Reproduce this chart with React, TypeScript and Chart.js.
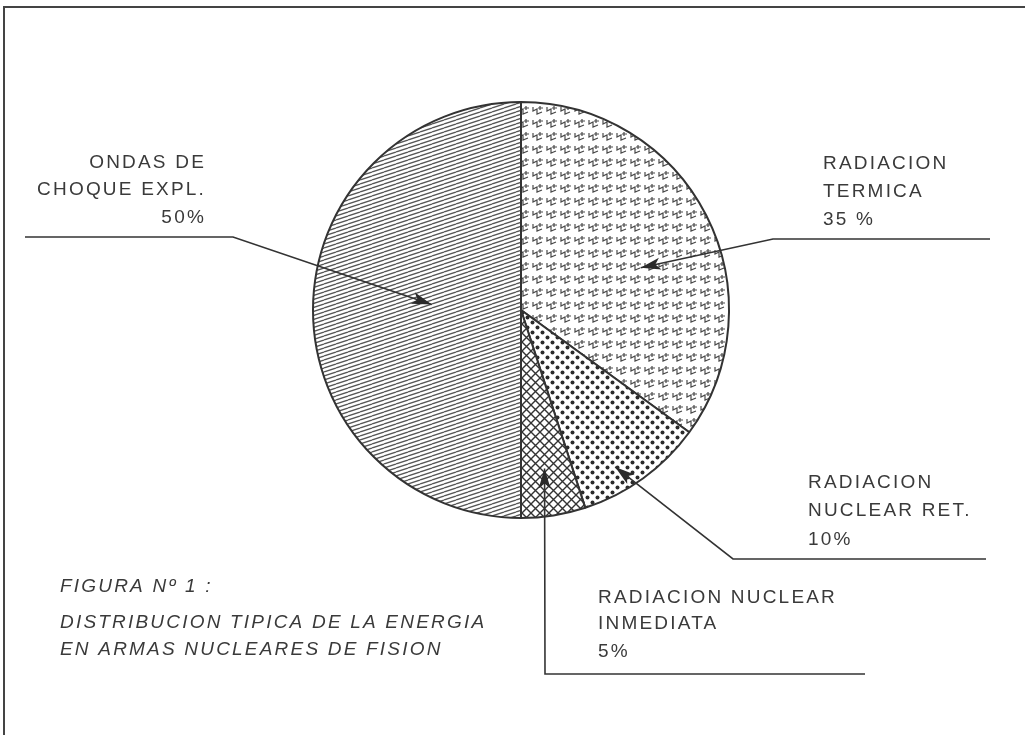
import React, { useEffect, useRef } from "react";
import { Chart, registerables } from "chart.js";

Chart.register(...registerables);

// ---- data ----
const categories = ["RADIACION TERMICA", "RADIACION NUCLEAR RET.", "RADIACION NUCLEAR INMEDIATA", "ONDAS DE CHOQUE EXPL."];
const percentages = [35, 10, 5, 50];
const labelLines = [
  ["RADIACION", "TERMICA", "35 %"],
  ["RADIACION", "NUCLEAR RET.", "10%"],
  ["RADIACION NUCLEAR", "INMEDIATA", "5%"],
  ["ONDAS DE", "CHOQUE EXPL.", "50%"],
];
const captionLines = ["FIGURA Nº 1 :", "DISTRIBUCION TIPICA DE LA ENERGIA", "EN ARMAS NUCLEARES DE FISION"];

// ---- layout (annotation placement, not data) ----
type Ann = {
  textX: number;
  align: CanvasTextAlign;
  baselines: number[];
  end: [number, number];
  elbow: [number, number];
  tipFrac: number;
  tipR: number;
};
const annotations: Ann[] = [
  { textX: 823, align: "left", baselines: [169, 197, 225], end: [990, 239], elbow: [773, 239], tipFrac: 0.56, tipR: 0.61 },
  { textX: 808, align: "left", baselines: [488, 516, 545], end: [986, 559], elbow: [733, 559], tipFrac: 0.64, tipR: 0.88 },
  { textX: 598, align: "left", baselines: [603, 629, 657], end: [865, 674], elbow: [545, 674], tipFrac: 0.53, tipR: 0.77 },
  { textX: 206, align: "right", baselines: [168, 195, 223], end: [25, 237], elbow: [233, 237], tipFrac: 0.52, tipR: 0.43 },
];

const INK = "#3a3a3a";

function makePattern(kind: string): CanvasPattern | string {
  const c = document.createElement("canvas");
  const ctx = c.getContext("2d");
  if (!ctx) return "#ccc";
  if (kind === "lines") {
    c.width = 12; c.height = 4;
    ctx.fillStyle = "#fff"; ctx.fillRect(0, 0, 12, 4);
    ctx.strokeStyle = "#555"; ctx.lineWidth = 1.3;
    for (const off of [-4, 0, 4]) {
      ctx.beginPath(); ctx.moveTo(0, 4 + off); ctx.lineTo(12, 0 + off); ctx.stroke();
    }
  } else if (kind === "zigzag") {
    c.width = 14; c.height = 13;
    ctx.fillStyle = "#fff"; ctx.fillRect(0, 0, 14, 13);
    ctx.strokeStyle = "#4a4a4a"; ctx.lineWidth = 1.2;
    ctx.beginPath();
    ctx.moveTo(1, 3); ctx.lineTo(1, 7); ctx.lineTo(5, 5); ctx.lineTo(5, 10); ctx.lineTo(10, 8);
    ctx.moveTo(8, 2); ctx.lineTo(8, 6);
    ctx.moveTo(6, 4); ctx.lineTo(11, 4);
    ctx.stroke();
  } else if (kind === "dots") {
    c.width = 10; c.height = 10;
    ctx.fillStyle = "#fff"; ctx.fillRect(0, 0, 10, 10);
    ctx.fillStyle = "#2a2a2a";
    for (const [x, y] of [[2.5, 2.5], [7.5, 7.5]]) {
      ctx.beginPath(); ctx.arc(x, y, 2.0, 0, Math.PI * 2); ctx.fill();
    }
  } else {
    c.width = 9; c.height = 9;
    ctx.fillStyle = "#fff"; ctx.fillRect(0, 0, 9, 9);
    ctx.strokeStyle = "#333"; ctx.lineWidth = 1.4;
    ctx.beginPath();
    ctx.moveTo(-1, -1); ctx.lineTo(10, 10);
    ctx.moveTo(-1, 10); ctx.lineTo(10, -1);
    ctx.stroke();
  }
  return ctx.createPattern(c, "repeat") || "#ccc";
}

const decorPlugin = {
  id: "decor",
  beforeDraw(chart: any) {
    const ctx = chart.ctx as CanvasRenderingContext2D;
    ctx.save();
    ctx.fillStyle = "#fff";
    ctx.fillRect(0, 0, chart.width, chart.height);
    ctx.strokeStyle = "#444";
    ctx.lineWidth = 2;
    ctx.beginPath();
    ctx.moveTo(4, 736); ctx.lineTo(4, 7); ctx.lineTo(1026, 7);
    ctx.stroke();
    ctx.restore();
  },
  afterDraw(chart: any) {
    const ctx = chart.ctx as CanvasRenderingContext2D;
    const meta = chart.getDatasetMeta(0);
    ctx.save();
    (ctx as any).letterSpacing = "2.2px";
    ctx.strokeStyle = "#333";
    ctx.font = "19px 'Liberation Sans', Arial, sans-serif";
    annotations.forEach((a, i) => {
      const arc = meta.data[i];
      const p = arc.getProps(["x", "y", "startAngle", "endAngle", "outerRadius"], true);
      const ang = p.startAngle + a.tipFrac * (p.endAngle - p.startAngle);
      const tx = p.x + Math.cos(ang) * p.outerRadius * a.tipR;
      const ty = p.y + Math.sin(ang) * p.outerRadius * a.tipR;
      ctx.lineWidth = 1.6;
      ctx.beginPath();
      ctx.moveTo(a.end[0], a.end[1]);
      ctx.lineTo(a.elbow[0], a.elbow[1]);
      ctx.lineTo(tx, ty);
      ctx.stroke();
      const dir = Math.atan2(ty - a.elbow[1], tx - a.elbow[0]);
      const L = 20, W = 6;
      const bx = tx - Math.cos(dir) * L, by = ty - Math.sin(dir) * L;
      ctx.beginPath();
      ctx.moveTo(tx, ty);
      ctx.lineTo(bx + Math.cos(dir + Math.PI / 2) * W, by + Math.sin(dir + Math.PI / 2) * W);
      ctx.lineTo(bx + Math.cos(dir) * 5, by + Math.sin(dir) * 5);
      ctx.lineTo(bx - Math.cos(dir + Math.PI / 2) * W, by - Math.sin(dir + Math.PI / 2) * W);
      ctx.closePath();
      ctx.fillStyle = "#2a2a2a";
      ctx.fill();
      ctx.fillStyle = INK;
      ctx.textAlign = a.align;
      ctx.textBaseline = "alphabetic";
      labelLines[i].forEach((t, k) => ctx.fillText(t, a.textX, a.baselines[k]));
    });
    ctx.font = "italic 19px 'Liberation Sans', Arial, sans-serif";
    ctx.textAlign = "left";
    const capBase = [592, 628, 655];
    captionLines.forEach((t, k) => ctx.fillText(t, 60, capBase[k]));
    ctx.restore();
  },
};

export default function App() {
  const ref = useRef<HTMLCanvasElement | null>(null);
  useEffect(() => {
    document.body.style.margin = "0";
    const canvas = ref.current;
    if (!canvas) return;
    const fills = [makePattern("zigzag"), makePattern("dots"), makePattern("cross"), makePattern("lines")];
    const chart = new Chart(canvas, {
      type: "pie",
      data: {
        labels: categories,
        datasets: [
          {
            data: percentages,
            backgroundColor: fills as any,
            borderColor: "#333",
            borderWidth: 2,
            hoverOffset: 0,
          },
        ],
      },
      options: {
        animation: false,
        responsive: true,
        maintainAspectRatio: false,
        layout: { padding: { top: 101, bottom: 216, left: 312, right: 295 } },
        plugins: { legend: { display: false }, tooltip: { enabled: false } },
        events: [],
      },
      plugins: [decorPlugin],
    });
    return () => chart.destroy();
  }, []);
  return (
    <div style={{ position: "fixed", left: 0, top: 0, width: 1025, height: 735, background: "#fff" }}>
      <canvas ref={ref} />
    </div>
  );
}
